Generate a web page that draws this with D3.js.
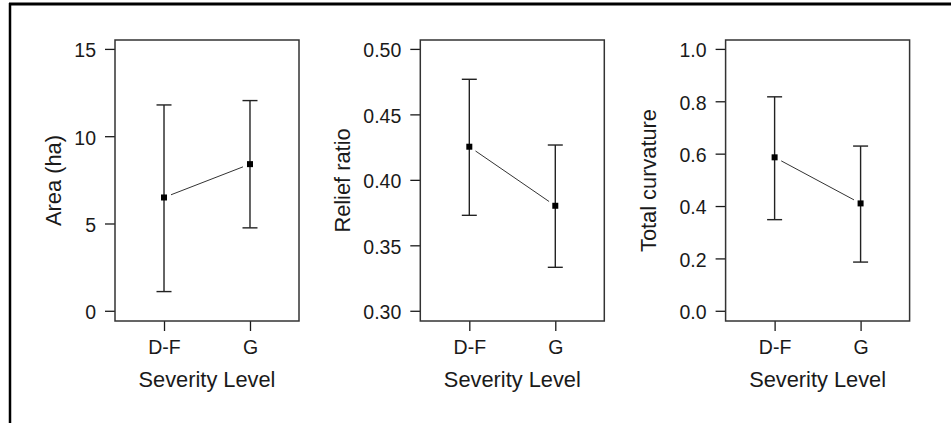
<!DOCTYPE html>
<html>
<head>
<meta charset="utf-8">
<script src="https://cdn.jsdelivr.net/npm/d3@7"></script>
<style>
  html, body { margin: 0; padding: 0; background: #fff; }
  svg { display: block; }
  text { font-family: "Liberation Sans", Arial, sans-serif; fill: #1a1a1a; }
</style>
</head>
<body>
<svg id="chart" width="951" height="423"></svg>
<script>
// ---- data ----
const categories = ["D-F", "G"];
const xTitle = "Severity Level";

const areaMean  = [6.49, 8.40];
const areaLower = [1.10, 4.75];
const areaUpper = [11.79, 12.04];
const areaTicks = [0, 5, 10, 15];
const areaTickLabels = ["0", "5", "10", "15"];

const reliefMean  = [0.4253, 0.3802];
const reliefLower = [0.3729, 0.3332];
const reliefUpper = [0.4768, 0.4266];
const reliefTicks = [0.30, 0.35, 0.40, 0.45, 0.50];
const reliefTickLabels = ["0.30", "0.35", "0.40", "0.45", "0.50"];

const curvMean  = [0.586, 0.410];
const curvLower = [0.348, 0.186];
const curvUpper = [0.817, 0.629];
const curvTicks = [0.0, 0.2, 0.4, 0.6, 0.8, 1.0];
const curvTickLabels = ["0.0", "0.2", "0.4", "0.6", "0.8", "1.0"];

const panels = [
  { title: "Area (ha)",       mean: areaMean,   lower: areaLower,   upper: areaUpper,   ticks: areaTicks,   labels: areaTickLabels,   titleOff: 54 },
  { title: "Relief ratio",    mean: reliefMean, lower: reliefLower, upper: reliefUpper, ticks: reliefTicks, labels: reliefTickLabels, titleOff: 70 },
  { title: "Total curvature", mean: curvMean,   lower: curvLower,   upper: curvUpper,   ticks: curvTicks,   labels: curvTickLabels,   titleOff: 70 }
];

// ---- layout ----
const svg = d3.select("#chart");
const firstLeft = 115, step = 305.3, boxW = 184, boxTop = 40, boxBottom = 321;
const tickFont = 19.5, titleFont = 21.8;
const ink = "#1a1a1a";

// outer frame (top and left edges)
svg.append("line").attr("x1", 9).attr("x2", 951).attr("y1", 4).attr("y2", 4)
  .attr("stroke", "#000").attr("stroke-width", 3);
svg.append("line").attr("x1", 10).attr("x2", 10).attr("y1", 3).attr("y2", 423)
  .attr("stroke", "#000").attr("stroke-width", 2.5);

panels.forEach((p, i) => {
  const left = firstLeft + i * step;
  const g = svg.append("g").attr("transform", `translate(${left},0)`);

  const lo = p.ticks[0], hi = p.ticks[p.ticks.length - 1];
  const padTop = 0.034 * (hi - lo), padBot = 0.039 * (hi - lo);
  const y = d3.scaleLinear().domain([lo - padBot, hi + padTop]).range([boxBottom, boxTop]);
  const x = d3.scalePoint().domain(categories).range([0, boxW]).padding(0.57);

  // y axis
  const yAxis = g.append("g")
    .call(d3.axisLeft(y).tickValues(p.ticks)
      .tickFormat((d, k) => p.labels[k]).tickSize(10).tickPadding(9));
  yAxis.select(".domain").remove();
  yAxis.selectAll(".tick line").attr("stroke", ink).attr("stroke-width", 1.3);
  yAxis.selectAll(".tick text").attr("font-size", tickFont)
    .attr("font-family", "Liberation Sans, Arial, sans-serif").attr("fill", ink).attr("dy", "0.4em");

  // x axis
  const xAxis = g.append("g").attr("transform", `translate(0,${boxBottom})`)
    .call(d3.axisBottom(x).tickSize(10).tickPadding(9));
  xAxis.select(".domain").remove();
  xAxis.selectAll(".tick line").attr("stroke", ink).attr("stroke-width", 1.3);
  xAxis.selectAll(".tick text").attr("font-size", tickFont)
    .attr("font-family", "Liberation Sans, Arial, sans-serif").attr("fill", ink);

  // box
  g.append("rect").attr("x", 0).attr("y", boxTop).attr("width", boxW).attr("height", boxBottom - boxTop)
    .attr("fill", "none").attr("stroke", "#333").attr("stroke-width", 1.5);

  const rows = categories.map((c, k) => ({ c, m: p.mean[k], lo: p.lower[k], hi: p.upper[k] }));

  // error bars
  const eb = g.append("g").attr("stroke", "#222").attr("stroke-width", 1.4);
  rows.forEach(r => {
    const cx = x(r.c);
    eb.append("line").attr("x1", cx).attr("x2", cx).attr("y1", y(r.lo)).attr("y2", y(r.hi));
    eb.append("line").attr("x1", cx - 7.5).attr("x2", cx + 7.5).attr("y1", y(r.hi)).attr("y2", y(r.hi));
    eb.append("line").attr("x1", cx - 7.5).attr("x2", cx + 7.5).attr("y1", y(r.lo)).attr("y2", y(r.lo));
  });

  // connecting line with gaps at points
  for (let k = 0; k < rows.length - 1; k++) {
    const x1 = x(rows[k].c), y1 = y(rows[k].m), x2 = x(rows[k + 1].c), y2 = y(rows[k + 1].m);
    const len = Math.hypot(x2 - x1, y2 - y1), gap = 7.5;
    const ux = (x2 - x1) / len, uy = (y2 - y1) / len;
    g.append("line")
      .attr("x1", x1 + ux * gap).attr("y1", y1 + uy * gap)
      .attr("x2", x2 - ux * gap).attr("y2", y2 - uy * gap)
      .attr("stroke", "#333").attr("stroke-width", 1);
  }

  // points
  g.selectAll("rect.pt").data(rows).join("rect").attr("class", "pt")
    .attr("x", d => x(d.c) - 3).attr("y", d => y(d.m) - 3)
    .attr("width", 6).attr("height", 6).attr("fill", "#000");

  // titles
  g.append("text").attr("x", boxW / 2).attr("y", 387).attr("text-anchor", "middle")
    .attr("font-size", titleFont).text(xTitle);
  g.append("text")
    .attr("transform", `translate(${-p.titleOff},${(boxTop + boxBottom) / 2}) rotate(-90)`)
    .attr("text-anchor", "middle").attr("font-size", titleFont).text(p.title);
});
</script>
</body>
</html>
